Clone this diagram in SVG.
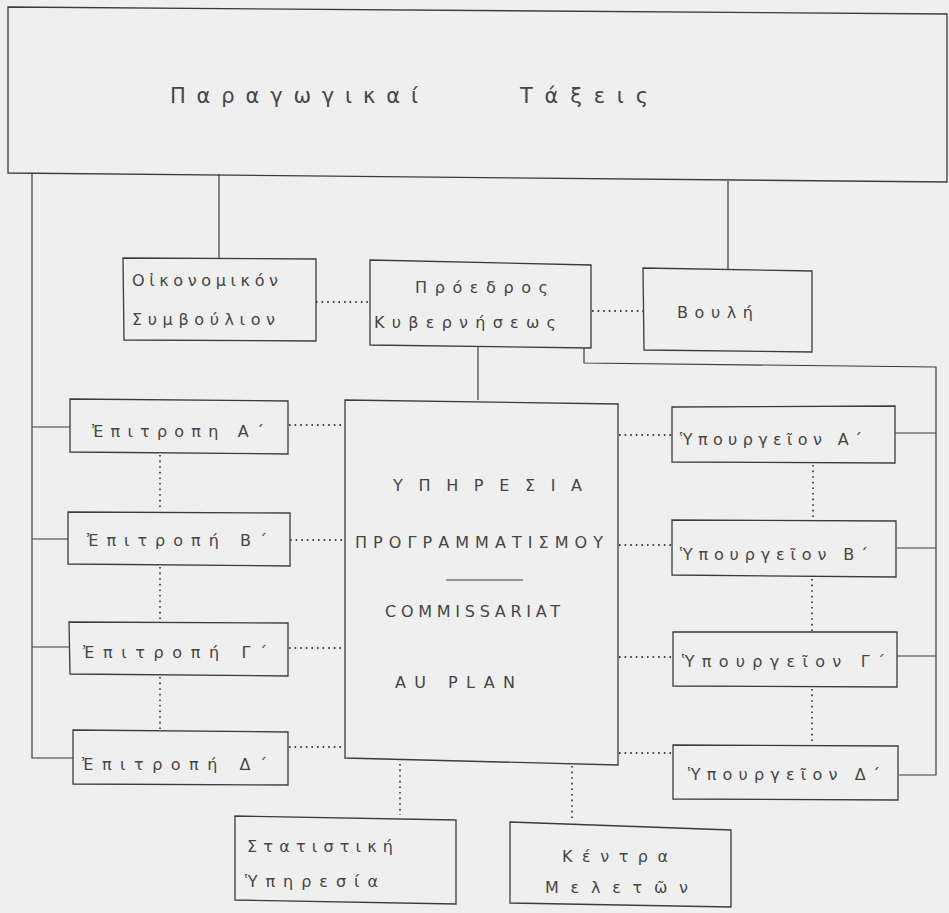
<svg xmlns="http://www.w3.org/2000/svg" width="949" height="913" viewBox="0 0 949 913">
<style>
.box{fill:none;stroke:#3c3c3c;stroke-width:1.3}
.ln{fill:none;stroke:#3c3c3c;stroke-width:1.2}
.dot{fill:none;stroke:#444;stroke-width:1.8;stroke-dasharray:1.6 4}
text{font-family:"DejaVu Sans","Noto Sans",sans-serif;fill:#454545;font-size:16px}
.big{font-size:21px}
</style>
<rect x="0" y="0" width="949" height="913" fill="#efefef"/>
<g id="connectors">
<path class="ln" d="M32,173 V758 H73"/>
<path class="ln" d="M32,427 H70"/>
<path class="ln" d="M32,539 H68"/>
<path class="ln" d="M32,647 H69"/>
<path class="ln" d="M219,174 V258"/>
<path class="ln" d="M728,181 V269"/>
<path class="ln" d="M478,347 V400"/>
<path class="ln" d="M584,348 V363 L936,367 V775 H899"/>
<path class="ln" d="M895,433 H936"/>
<path class="ln" d="M897,548 H936"/>
<path class="ln" d="M897,656 H936"/>
<path class="dot" d="M316,302 H370"/>
<path class="dot" d="M592,311 H643"/>
<path class="dot" d="M289,425 H344"/>
<path class="dot" d="M290,540 H344"/>
<path class="dot" d="M289,648 H344"/>
<path class="dot" d="M289,747 H344"/>
<path class="dot" d="M619,435 H672"/>
<path class="dot" d="M619,545 H672"/>
<path class="dot" d="M619,657 H673"/>
<path class="dot" d="M619,753 H673"/>
<path class="dot" d="M160,455 V511"/>
<path class="dot" d="M160,567 V621"/>
<path class="dot" d="M160,677 V729"/>
<path class="dot" d="M813,465 V519"/>
<path class="dot" d="M812,579 V631"/>
<path class="dot" d="M812,689 V744"/>
<path class="dot" d="M400,764 V815"/>
<path class="dot" d="M572,766 V822"/>
</g>
<g id="paragogikai-taxeis">
<path class="box" d="M8,7 L947,14 V182 L8,173 Z"/>
<text class="big" x="170" y="103" textLength="248" lengthAdjust="spacing">Παραγωγικαί</text>
<text class="big" x="520" y="103" textLength="128" lengthAdjust="spacing">Τάξεις</text>
</g>
<g id="oikonomikon">
<path class="box" d="M123,258 L316,259 V341 L124,340 Z"/>
<text x="132" y="286" textLength="146" lengthAdjust="spacing">Οἰκονομικόν</text>
<text x="132" y="325" textLength="143" lengthAdjust="spacing">Συμβούλιον</text>
</g>
<g id="proedros">
<path class="box" d="M370,260 L591,265 V348 L370,345 Z"/>
<text x="415" y="293" textLength="133" lengthAdjust="spacing">Πρόεδρος</text>
<text x="374" y="328" textLength="182" lengthAdjust="spacing">Κυβερνήσεως</text>
</g>
<g id="vouli">
<path class="box" d="M643,268 L812,271 V352 L644,350 Z"/>
<text x="677" y="318" textLength="76" lengthAdjust="spacing">Βουλή</text>
</g>
<g id="epitropi-a">
<path class="box" d="M70,399 L288,401 V454 L70,452 Z"/>
<text x="92" y="437" textLength="172" lengthAdjust="spacing">Ἐπιτροπη Α΄</text>
</g>
<g id="epitropi-b">
<path class="box" d="M68,512 L290,513 V566 L68,564 Z"/>
<text x="87" y="546" textLength="180" lengthAdjust="spacing">Ἐπιτροπή Β΄</text>
</g>
<g id="epitropi-g">
<path class="box" d="M69,622 L288,623 V676 L70,674 Z"/>
<text x="83" y="658" textLength="184" lengthAdjust="spacing">Ἐπιτροπή Γ΄</text>
</g>
<g id="epitropi-d">
<path class="box" d="M73,730 L288,732 V785 L73,784 Z"/>
<text x="82" y="770" textLength="185" lengthAdjust="spacing">Ἐπιτροπή Δ΄</text>
</g>
<g id="ypiresia-programmatismou">
<path class="box" d="M345,400 L618,404 V765 L345,758 Z"/>
<text x="393" y="491" textLength="189" lengthAdjust="spacing">ΥΠΗΡΕΣΙΑ</text>
<text x="355" y="548" textLength="248" lengthAdjust="spacing">ΠΡΟΓΡΑΜΜΑΤΙΣΜΟΥ</text>
<path class="ln" d="M446,580 H523"/>
<text x="385" y="617" textLength="175" lengthAdjust="spacing">COMMISSARIAT</text>
<text x="395" y="688" textLength="120" lengthAdjust="spacing">AU   PLAN</text>
</g>
<g id="ypourgeion-a">
<path class="box" d="M672,407 L895,406 V463 L672,462 Z"/>
<text x="680" y="445" textLength="182" lengthAdjust="spacing">Ὑπουργεῖον Α΄</text>
</g>
<g id="ypourgeion-b">
<path class="box" d="M672,520 L896,521 V577 L672,575 Z"/>
<text x="680" y="560" textLength="188" lengthAdjust="spacing">Ὑπουργεῖον Β΄</text>
</g>
<g id="ypourgeion-g">
<path class="box" d="M673,632 L897,632 V687 L673,686 Z"/>
<text x="682" y="667" textLength="203" lengthAdjust="spacing">Ὑπουργεῖον Γ΄</text>
</g>
<g id="ypourgeion-d">
<path class="box" d="M673,745 L898,746 V800 L673,799 Z"/>
<text x="688" y="780" textLength="192" lengthAdjust="spacing">Ὑπουργεῖον Δ΄</text>
</g>
<g id="statistiki">
<path class="box" d="M235,816 L456,820 V904 L235,900 Z"/>
<text x="247" y="852" textLength="146" lengthAdjust="spacing">Στατιστική</text>
<text x="245" y="887" textLength="133" lengthAdjust="spacing">Ὑπηρεσία</text>
</g>
<g id="kentra-meleton">
<path class="box" d="M510,822 L731,830 V907 L510,903 Z"/>
<text x="562" y="862" textLength="106" lengthAdjust="spacing">Κέντρα</text>
<text x="545" y="893" textLength="143" lengthAdjust="spacing">Μελετῶν</text>
</g>
</svg>
